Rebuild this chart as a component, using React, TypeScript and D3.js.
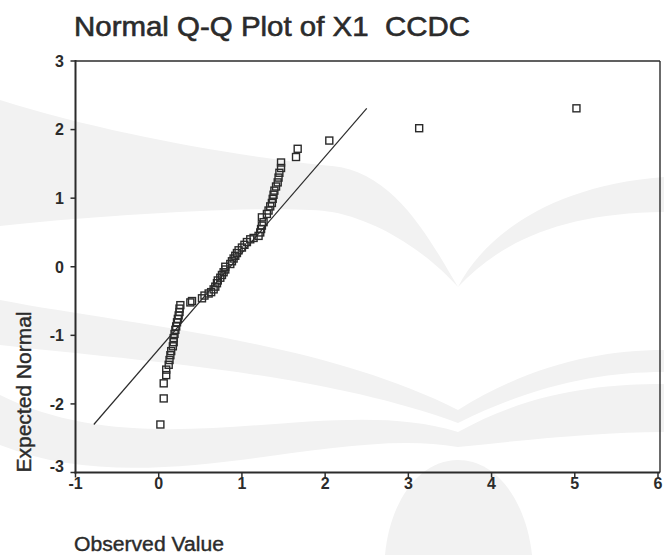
import React from "react";
import * as d3 from "d3";

// Observed values of X1 CCDC (sorted) and their expected normal scores
const observed = [
  0.02, 0.06, 0.06, 0.09, 0.09, 0.12, 0.13, 0.14, 0.15, 0.17, 0.18, 0.18,
  0.19, 0.2, 0.21, 0.22, 0.23, 0.24, 0.25, 0.25, 0.26, 0.38, 0.4, 0.52,
  0.55, 0.6, 0.63, 0.66, 0.68, 0.7, 0.71, 0.74, 0.76, 0.78, 0.8, 0.8, 0.86,
  0.88, 0.9, 0.92, 0.94, 0.96, 1.0, 1.03, 1.06, 1.1, 1.14, 1.2, 1.22, 1.23,
  1.24, 1.26, 1.24, 1.3, 1.32, 1.34, 1.36, 1.37, 1.38, 1.39, 1.41, 1.43,
  1.44, 1.45, 1.47, 1.47, 1.65, 1.67, 2.05, 3.13, 5.02,
];
const expectedNormal = [
  -2.3, -1.92, -1.7, -1.58, -1.5, -1.43, -1.36, -1.29, -1.23, -1.16, -1.1,
  -1.04, -0.98, -0.92, -0.87, -0.81, -0.76, -0.71, -0.66, -0.61, -0.56,
  -0.52, -0.5, -0.46, -0.42, -0.39, -0.37, -0.33, -0.29, -0.24, -0.2, -0.16,
  -0.12, -0.08, -0.04, 0.0, 0.04, 0.08, 0.12, 0.16, 0.2, 0.24, 0.28, 0.32,
  0.36, 0.4, 0.42, 0.45, 0.5, 0.55, 0.6, 0.65, 0.72, 0.77, 0.82, 0.88, 0.93,
  0.99, 1.05, 1.11, 1.17, 1.23, 1.3, 1.37, 1.44, 1.52, 1.6, 1.72, 1.84,
  2.02, 2.31,
];

// Reference line endpoints (observed, expected)
const refLineX = [-0.78, 2.5];
const refLineY = [-2.3, 2.31];

const xTicks = [-1, 0, 1, 2, 3, 4, 5, 6];
const yTicks = [-3, -2, -1, 0, 1, 2, 3];

const W = 664;
const H = 555;
const left = 75.5;
const right = 660;
const top = 61;
const bottom = 472.5;
const ink = "#2b2b2b";
const font = "'Liberation Sans', Arial, sans-serif";

// Faint emblem printed behind the chart
const emblemPaths = [
  // upper wing, left and right arms
  "M458,287 C430,240 395,172 332,166 C250,158 110,135 0,100 L0,226 C110,214 290,204 332,212 C385,222 432,258 458,287 Z",
  "M458,287 C482,240 545,186 664,177 L664,212 C565,213 502,240 458,287 Z",
  // lower wing, first band
  "M0,300 C130,325 320,340 458,410 C530,365 600,350 664,350 L664,372 C600,372 535,385 458,423 C320,372 130,360 0,345 Z",
  // lower wing, second band
  "M0,395 C150,470 330,392 458,432 C530,392 600,384 664,384 L664,432 C600,432 525,440 458,447 C330,425 150,505 0,445 Z",
  // base arch
  "M385,555 C390,500 420,460 458,460 C496,460 526,500 532,555 Z",
];

export default function App() {
  const x = d3.scaleLinear().domain([-1, 6]).range([left, 658]);
  const y = d3.scaleLinear().domain([-3, 3]).range([bottom, top]);

  const points = observed.map((v, i) => [v, expectedNormal[i]] as [number, number]);
  const refLine = d3
    .line<[number, number]>()
    .x((d) => x(d[0]))
    .y((d) => y(d[1]))(refLineX.map((v, i) => [v, refLineY[i]] as [number, number]));

  const sq = 7;

  return (
    <svg
      width={W}
      height={H}
      viewBox={`0 0 ${W} ${H}`}
      style={{ position: "absolute", left: 0, top: 0, background: "#fff" }}
    >
      <g fill="#f2f2f2">
        {emblemPaths.map((d, i) => (
          <path key={i} d={d} />
        ))}
      </g>

      <text
        x={74}
        y={36}
        fontFamily={font}
        fontSize={28}
        fill={ink}
        stroke={ink}
        strokeWidth={0.6}
        textLength={396}
        lengthAdjust="spacingAndGlyphs"
        style={{ whiteSpace: "pre" }}
      >
        Normal Q-Q Plot of X1  CCDC
      </text>

      {/* frame */}
      <line x1={left} x2={right} y1={top} y2={top} stroke={ink} strokeWidth={1.4} />
      <line x1={right} x2={right} y1={top} y2={bottom} stroke={ink} strokeWidth={1.4} />
      <line x1={left} x2={left} y1={top - 1} y2={bottom + 1} stroke={ink} strokeWidth={2} />
      <line x1={left - 1} x2={right} y1={bottom} y2={bottom} stroke={ink} strokeWidth={2} />

      {/* y axis */}
      {yTicks.map((t) => (
        <g key={"y" + t}>
          <line x1={left - 5} x2={left} y1={y(t)} y2={y(t)} stroke={ink} strokeWidth={1.5} />
          <text
            x={64}
            y={y(t) - (t === -3 ? 6 : 0)}
            dy="0.36em"
            textAnchor="end"
            fontFamily={font}
            fontSize={16}
            fontWeight="bold"
            fill={ink}
          >
            {t}
          </text>
        </g>
      ))}

      {/* x axis */}
      {xTicks.map((t) => (
        <g key={"x" + t}>
          <line x1={x(t)} x2={x(t)} y1={bottom} y2={bottom + 5} stroke={ink} strokeWidth={1.5} />
          <text
            x={x(t)}
            y={489}
            textAnchor="middle"
            fontFamily={font}
            fontSize={16}
            fontWeight="bold"
            fill={ink}
          >
            {t}
          </text>
        </g>
      ))}

      <path d={refLine ?? ""} fill="none" stroke={ink} strokeWidth={1.2} />

      {points.map(([ox, ey], i) => (
        <rect
          key={i}
          x={x(ox) - sq / 2}
          y={y(ey) - sq / 2}
          width={sq}
          height={sq}
          fill="none"
          stroke={ink}
          strokeWidth={1.4}
        />
      ))}

      <text
        transform="translate(31,392) rotate(-90)"
        textAnchor="middle"
        fontFamily={font}
        fontSize={20}
        fill={ink}
        stroke={ink}
        strokeWidth={0.4}
        textLength={161}
        lengthAdjust="spacingAndGlyphs"
      >
        Expected Normal
      </text>

      <text
        x={74}
        y={551}
        fontFamily={font}
        fontSize={20}
        fill={ink}
        stroke={ink}
        strokeWidth={0.4}
        textLength={150}
        lengthAdjust="spacingAndGlyphs"
      >
        Observed Value
      </text>
    </svg>
  );
}
